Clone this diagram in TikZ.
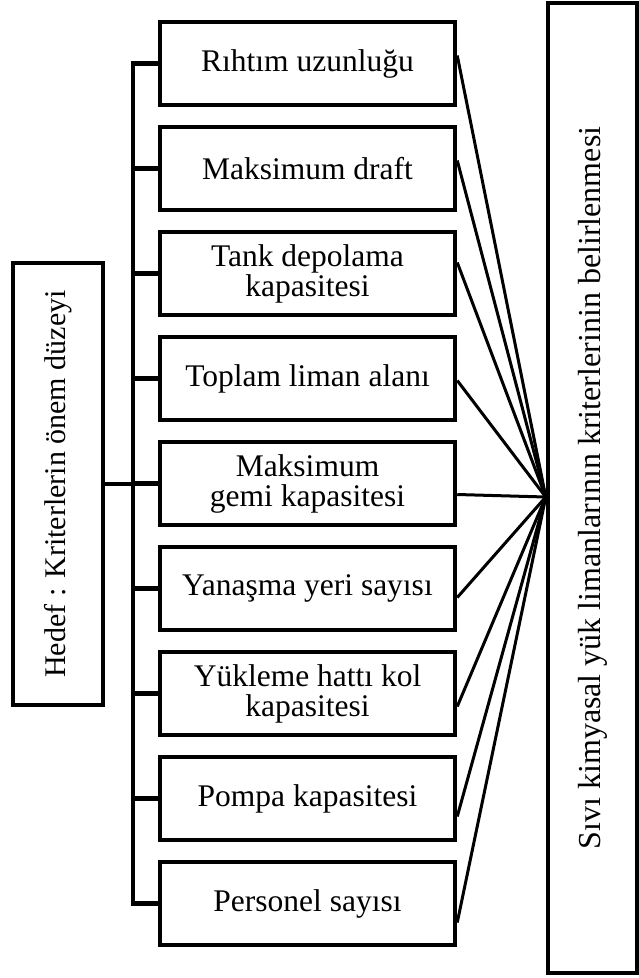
\documentclass[tikz,border=0pt]{standalone}
\usepackage{fontspec}
\setmainfont{Liberation Serif}
\usepackage{graphicx}
\begin{document}
\begin{tikzpicture}[x=1pt,y=-1pt,
  kasten/.style={draw,line width=4.5pt,minimum width=295pt,minimum height=83pt,
    align=center,inner sep=0pt,font=\fontsize{31.5}{30}\selectfont},
  hochkasten/.style={draw,line width=4.5pt,inner sep=0pt,
    font=\fontsize{30}{30}\selectfont},
  strich/.style={line width=4.5pt},
  faecher/.style={line width=3pt}]
\useasboundingbox (0,0) rectangle (639,978);
% Ziel rechts, Hedef links (Text gedreht)
\node[hochkasten,minimum width=89pt,minimum height=970pt,
  font=\fontsize{32}{32}\selectfont] (ziel) at (592.5,488)
  {\rotatebox{90}{Sıvı kimyasal yük limanlarının kriterlerinin belirlenmesi}};
\node[hochkasten,minimum width=90pt,minimum height=442pt] (hedef) at (58,484)
  {\rotatebox{90}{Hedef : Kriterlerin önem düzeyi}};
% Kriterien (Abstand 105)
\foreach \t [count=\i] in {Rıhtım uzunluğu, Maksimum draft,
    {Tank depolama\\kapasitesi}, Toplam liman alanı,
    {Maksimum\\gemi kapasitesi}, Yanaşma yeri sayısı,
    {Yükleme hattı kol\\kapasitesi}, Pompa kapasitesi, Personel sayısı}
  \node[kasten] (k\i) at (307.5,{63.5+105*(\i-1)}) {\t};
% Sammelschiene links
\coordinate (schiene) at (133,0);
\draw[strich] (k1.west) -- (k1.west -| schiene) -- (k9.west -| schiene) -- (k9.west);
\foreach \i in {2,...,8} \draw[strich] (k\i.west) -- (k\i.west -| schiene);
\draw[strich] (hedef.east) -- (hedef.east -| schiene);
% Faecher zum Ziel
\coordinate (knoten) at ([shift={(0,9)}]ziel.west);
\foreach \i/\d in {1/-8,2/-8,3/-11,4/2,5/11,6/9,7/13,8/18,9/19}
  \draw[faecher] ([shift={(0,\d)}]k\i.east) -- (knoten);
\end{tikzpicture}
\end{document}
